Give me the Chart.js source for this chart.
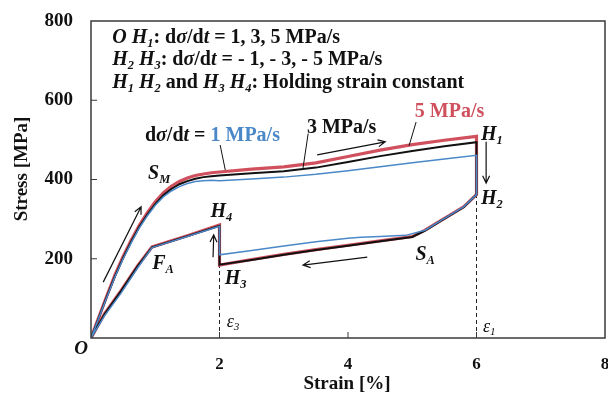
<!DOCTYPE html>
<html><head><meta charset="utf-8">
<script src="https://cdn.jsdelivr.net/npm/chart.js@4.4.1/dist/chart.umd.min.js"></script>
<style>html,body{margin:0;padding:0;background:#fff}canvas{display:block}</style>
</head><body><canvas id="c" width="608" height="394"></canvas>
<script>
// ---- data (strain %, stress MPa) ----
const strain5 = [0,0.125,0.25,0.375,0.5,0.625,0.75,0.875,1.0,1.125,1.25,1.375,1.5,1.625,1.75,1.875,2.0,2.5,3.0,3.5,4.0,4.5,5.0,5.5,6.0, 6.0,5.8,5.45,5.2,5.0,4.5,4.0,3.5,3.0,2.5,2.0, 2.0,1.5,0.95,0.73,0.47,0.21,0];
const stress5 = [0,54,108,160,206,247,284,316,344,366,383,395,404,410,414,417,419,426,432,442,458,474,488,499,509, 362,331,297,272,256,245,234,223,211,198,184, 285,258,230,183,120,61,0];
const strain3 = [0,0.125,0.25,0.375,0.5,0.625,0.75,0.875,1.0,1.125,1.25,1.375,1.5,1.625,1.75,1.875,2.0,2.5,3.0,3.5,4.0,4.5,5.0,5.5,6.0, 6.0,5.8,5.45,5.2,5.0,4.5,4.0,3.5,3.0,2.5,2.0, 2.0,1.5,0.95,0.73,0.47,0.21,0];
const stress3 = [0,53,106,157,202,243,280,311,338,360,376,388,396,402,406,408,410,416,421,430,444,459,472,484,494, 362,330,296,271,255,244,233,222,210,197,185, 283,257,229,182,119,60,0];
const strain1 = [0,0.125,0.25,0.375,0.5,0.625,0.75,0.875,1.0,1.125,1.25,1.375,1.5,1.625,1.75,1.875,2.0,2.5,3.0,3.5,4.0,4.5,5.0,5.5,6.0, 6.0,5.8,5.45,5.2,4.9,4.5,4.2,4.0,3.5,3.0,2.5,2.0, 2.0,1.5,0.95,0.73,0.47,0.21,0];
const stress1 = [0,52,104,155,200,240,277,308,335,356,371,382,390,395,397,398,397,401,406,413,422,432,442,452,461, 362,331,297,272,259,256,254,252,243,232,221,210, 282,256,228,178,114,56,0];
// holding-strain reference lines (epsilon_3, epsilon_1)
const holdStrain = [2, 6];
const holdStress = [184, 362];
const xTickValues = [2, 4, 6, 8];
const yTickValues = [200, 400, 600, 800];

const SERIF = '"Liberation Serif","Times New Roman",serif';
const RED = '#d0505e', BLUE = '#4a88c8', BLACK = '#111';

const pts = (xs, ys) => xs.map((x, i) => ({x, y: ys[i]}));

const datasets = [
  {label:'1 MPa/s', data: pts(strain1, stress1), borderColor: BLUE, borderWidth: 1.5, order: 1},
  {label:'3 MPa/s', data: pts(strain3, stress3), borderColor: BLACK, borderWidth: 2, order: 2},
  {label:'5 MPa/s', data: pts(strain5, stress5), borderColor: RED, borderWidth: 3.2, order: 3},
];
holdStrain.forEach((x, i) => datasets.push({
  label: 'hold' + i, data: [{x, y: 0}, {x, y: holdStress[i]}],
  borderColor: '#222', borderWidth: 1, borderDash: [4, 3], order: 4
}));
datasets.forEach(d => { d.showLine = true; d.pointRadius = 0; d.fill = false; d.tension = 0; });

function setFont(ctx, f, size) {
  const sub = f.includes('s');
  const fs = sub ? size * 0.62 : size;
  ctx.font = (f.includes('i') ? 'italic ' : '') + (f.includes('n') ? '' : 'bold ') + fs + 'px ' + SERIF;
  return sub;
}
function richWidth(ctx, segs, size) {
  let w = 0;
  for (const [t, f = ''] of segs) { setFont(ctx, f, size); w += ctx.measureText(t).width; }
  return w;
}
function drawRich(ctx, x, y, segs, size, color, center) {
  let cx = center ? x - richWidth(ctx, segs, size) / 2 : x;
  ctx.textBaseline = 'middle';
  ctx.textAlign = 'left';
  for (const [t, f = '', col] of segs) {
    const sub = setFont(ctx, f, size);
    ctx.fillStyle = col || color;
    ctx.fillText(t, cx, y + (sub ? size * 0.3 : 0));
    cx += ctx.measureText(t).width;
  }
}

// annotation content (value coordinates)
const headerLines = [
  [['O','i'],[' '],['H','i'],['1','is'],[': d'],['σ','i'],['/d'],['t','i'],[' = 1, 3, 5 MPa/s']],
  [['H','i'],['2','is'],[' '],['H','i'],['3','is'],[': d'],['σ','i'],['/d'],['t','i'],[' = - 1, - 3, - 5 MPa/s']],
  [['H','i'],['1','is'],[' '],['H','i'],['2','is'],[' and '],['H','i'],['3','is'],[' '],['H','i'],['4','is'],[': Holding strain constant']],
];
const headerX = 0.33, headerY = [757, 702, 644];
const pointLabels = [
  {x:1.06, y:414, s:[['S','i'],['M','is']]},
  {x:2.03, y:318, s:[['H','i'],['4','is']]},
  {x:1.12, y:187, s:[['F','i'],['A','is']]},
  {x:2.25, y:149, s:[['H','i'],['3','is']]},
  {x:5.20, y:209, s:[['S','i'],['A','is']]},
  {x:6.24, y:512, s:[['H','i'],['1','is']]},
  {x:6.24, y:351, s:[['H','i'],['2','is']]},
];
const epsLabels = [
  {x:2.21, y:40, s:[['ε','in'],['3','ins']]},
  {x:6.20, y:28, s:[['ε','in'],['1','ins']]},
];
const rateLabels = [
  {x:0.84, y:510, s:[['d'],['σ','i'],['/d'],['t','i'],[' = '],['1 MPa/s','',BLUE]]},
  {x:3.36, y:530, s:[['3 MPa/s']]},
  {x:5.04, y:570, s:[['5 MPa/s','',RED]]},
];
const leaders = [
  [2.01,487, 2.09,424], [3.38,516, 3.30,429], [5.06,545, 4.95,485]
];
const arrows = [
  [0.19,141, 0.78,331], [3.52,462, 4.58,495], [6.15,495, 6.15,391],
  [4.30,204, 3.30,184], [1.90,204, 1.91,260]
];

const deco = {
  id: 'deco',
  afterDraw(chart) {
    const {ctx, chartArea: a, scales: {x, y}} = chart;
    const X = v => x.getPixelForValue(v), Y = v => y.getPixelForValue(v);
    ctx.save();
    // frame
    ctx.strokeStyle = '#3a3a3a'; ctx.lineWidth = 1.5;
    ctx.strokeRect(a.left, a.top, a.right - a.left, a.bottom - a.top);
    // inward tick marks
    ctx.lineWidth = 1;
    yTickValues.slice(0, 3).forEach(v => { ctx.beginPath(); ctx.moveTo(a.left, Y(v)); ctx.lineTo(a.left + 6, Y(v)); ctx.stroke(); });
    xTickValues.slice(0, 3).forEach(v => { ctx.beginPath(); ctx.moveTo(X(v), a.bottom); ctx.lineTo(X(v), a.bottom - 6); ctx.stroke(); });
    // leaders
    ctx.strokeStyle = '#111'; ctx.lineWidth = 1;
    leaders.forEach(([x1,y1,x2,y2]) => { ctx.beginPath(); ctx.moveTo(X(x1),Y(y1)); ctx.lineTo(X(x2),Y(y2)); ctx.stroke(); });
    // arrows
    ctx.lineWidth = 1.2;
    arrows.forEach(([x1,y1,x2,y2]) => {
      const px1=X(x1), py1=Y(y1), px2=X(x2), py2=Y(y2);
      const ang = Math.atan2(py2-py1, px2-px1), h = 8;
      ctx.beginPath(); ctx.moveTo(px1,py1); ctx.lineTo(px2,py2);
      ctx.moveTo(px2 - h*Math.cos(ang-0.45), py2 - h*Math.sin(ang-0.45));
      ctx.lineTo(px2,py2);
      ctx.lineTo(px2 - h*Math.cos(ang+0.45), py2 - h*Math.sin(ang+0.45));
      ctx.stroke();
    });
    // texts
    headerLines.forEach((segs, i) => drawRich(ctx, X(headerX), Y(headerY[i]), segs, 20, '#111', false));
    pointLabels.forEach(l => drawRich(ctx, X(l.x), Y(l.y), l.s, 20, '#111', true));
    epsLabels.forEach(l => drawRich(ctx, X(l.x), Y(l.y), l.s, 18, '#111', true));
    rateLabels.forEach(l => drawRich(ctx, X(l.x), Y(l.y), l.s, 20, '#111', false));
    // origin label
    drawRich(ctx, a.left - 10, a.bottom + 11, [['O','i']], 19, '#111', true);
    // axis titles
    ctx.fillStyle = '#111'; ctx.textAlign = 'center'; ctx.textBaseline = 'middle';
    ctx.font = 'bold 19px ' + SERIF;
    ctx.fillText('Strain [%]', 347, 384);
    ctx.save(); ctx.translate(22, 169); ctx.rotate(-Math.PI / 2);
    ctx.fillText('Stress [MPa]', 0, 0); ctx.restore();
    ctx.restore();
  }
};

new Chart(document.getElementById('c'), {
  type: 'scatter',
  data: { datasets },
  options: {
    responsive: false, animation: false, devicePixelRatio: 1,
    layout: { padding: { top: 21, right: 3, left: 0, bottom: 0 } },
    plugins: { legend: { display: false }, tooltip: { enabled: false } },
    scales: {
      x: {
        type: 'linear', min: 0, max: 8,
        border: { display: false }, grid: { display: false, drawTicks: false },
        ticks: { stepSize: 2, padding: 16, color: '#111', maxRotation: 0,
          font: { family: SERIF, size: 17, weight: 'bold' },
          callback: v => xTickValues.includes(v) ? String(v) : '' },
        afterFit: s => { s.height = 56; s.paddingLeft = 0; s.paddingRight = 0; }
      },
      y: {
        type: 'linear', min: 0, max: 800,
        border: { display: false }, grid: { display: false, drawTicks: false },
        ticks: { stepSize: 200, padding: 18, color: '#111',
          font: { family: SERIF, size: 19, weight: 'bold' },
          callback: v => yTickValues.includes(v) ? String(v) : '' },
        afterFit: s => { s.width = 91; s.paddingTop = 0; s.paddingBottom = 0; }
      }
    }
  },
  plugins: [deco]
});
</script>
</body></html>
